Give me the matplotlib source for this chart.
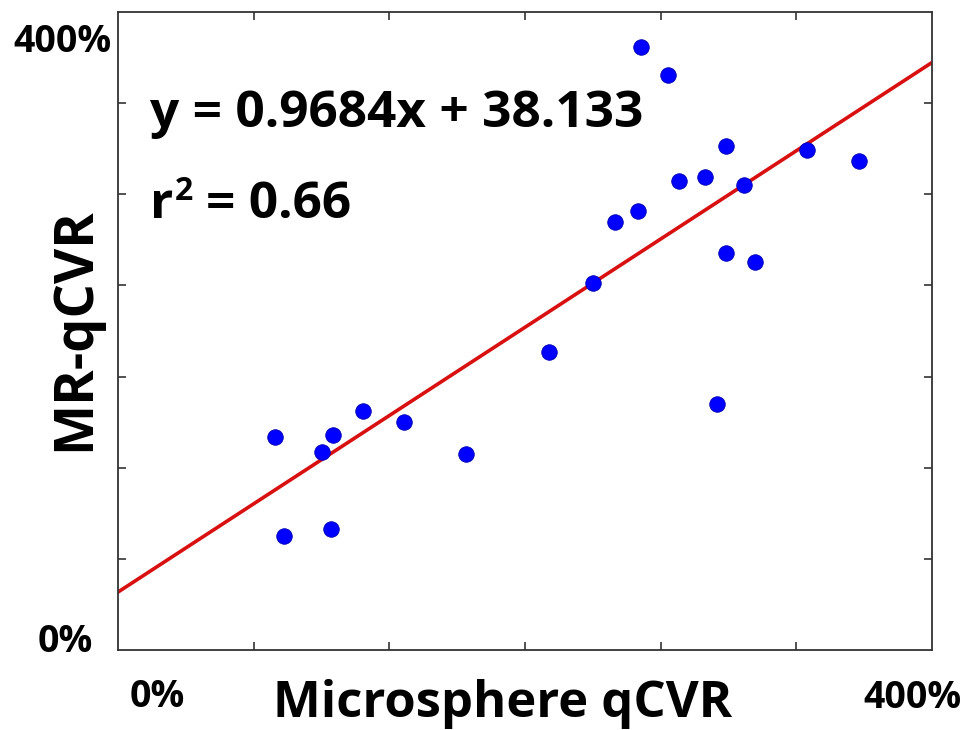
import matplotlib.pyplot as plt
import numpy as np

# microsphere vs MR qCVR measurements (percent)
micro_qcvr = [69.4, 73.4, 90.2, 95.1, 94.2, 108.4, 126.5, 153.9, 190.6, 210.1, 219.8, 230.0,
              231.3, 243.2, 248.1, 259.6, 268.9, 268.9, 276.9, 264.9, 281.7, 304.7, 327.7]
mr_qcvr = [140.2, 75.0, 130.3, 141.5, 79.7, 157.3, 150.1, 129.0, 196.2, 241.6, 281.8, 289.0,
           397.0, 378.5, 308.7, 311.4, 331.8, 261.3, 306.1, 161.9, 255.4, 329.2, 321.9]

slope = 0.9684
intercept = 38.133
r_squared = 0.66

xlim = (0, 360)
ylim = (0, 420)
tick_step = 60

W, H = 968, 730
fig = plt.figure(figsize=(W / 100, H / 100), dpi=100)
plt.rcParams["font.family"] = ["Open Sans", "DejaVu Sans"]


def px(x, y):
    """Pixel position (from top-left) to figure fraction."""
    return x / W, 1 - y / H


ax = fig.add_axes([118 / W, (H - 650) / H, 814 / W, 638 / H])

line_x = np.array(xlim)
ax.plot(line_x, slope * line_x + intercept, color="#d81010", lw=2.6, zorder=2)
ax.scatter(micro_qcvr, mr_qcvr, s=125, color="#0000ff", edgecolors="#0000b0",
           linewidths=0.6, zorder=3)

ax.set_xlim(*xlim)
ax.set_ylim(*ylim)
ax.set_xticks(np.arange(xlim[0] + tick_step, xlim[1], tick_step))
ax.set_yticks(np.arange(ylim[0] + tick_step, ylim[1], tick_step))
ax.tick_params(direction="in", length=6, width=1.2, color="#333333",
               top=True, right=True, labelbottom=False, labelleft=False)
for sp in ax.spines.values():
    sp.set_color("#333333")
    sp.set_linewidth(1.3)

# fit annotation
fig.text(*px(150, 127), f"y = {slope}x + {intercept}", fontsize=37, fontweight="bold",
         ha="left", va="baseline")
fig.text(*px(150, 218), "r", fontsize=37, fontweight="bold", ha="left", va="baseline")
fig.text(*px(175, 200), "2", fontsize=23, fontweight="bold", ha="left", va="baseline")
fig.text(*px(206, 218), f"= {r_squared}", fontsize=37, fontweight="bold",
         ha="left", va="baseline")

# axis range labels
fig.text(*px(112, 52), "400%", fontsize=27, fontweight="bold", ha="right", va="baseline")
fig.text(*px(93, 652), "0%", fontsize=27, fontweight="bold", ha="right", va="baseline")
fig.text(*px(157, 707), "0%", fontsize=27, fontweight="bold", ha="center", va="baseline")
fig.text(*px(912, 708), "400%", fontsize=27, fontweight="bold", ha="center", va="baseline")

fig.text(*px(503, 717), "Microsphere qCVR", fontsize=36.5, fontweight="bold",
         ha="center", va="baseline")
fig.text(*px(75, 329), "MR-qCVR", fontsize=39, fontweight="bold", rotation=90,
         ha="center", va="center")

fig.savefig("out.png", dpi=100, facecolor="white")
